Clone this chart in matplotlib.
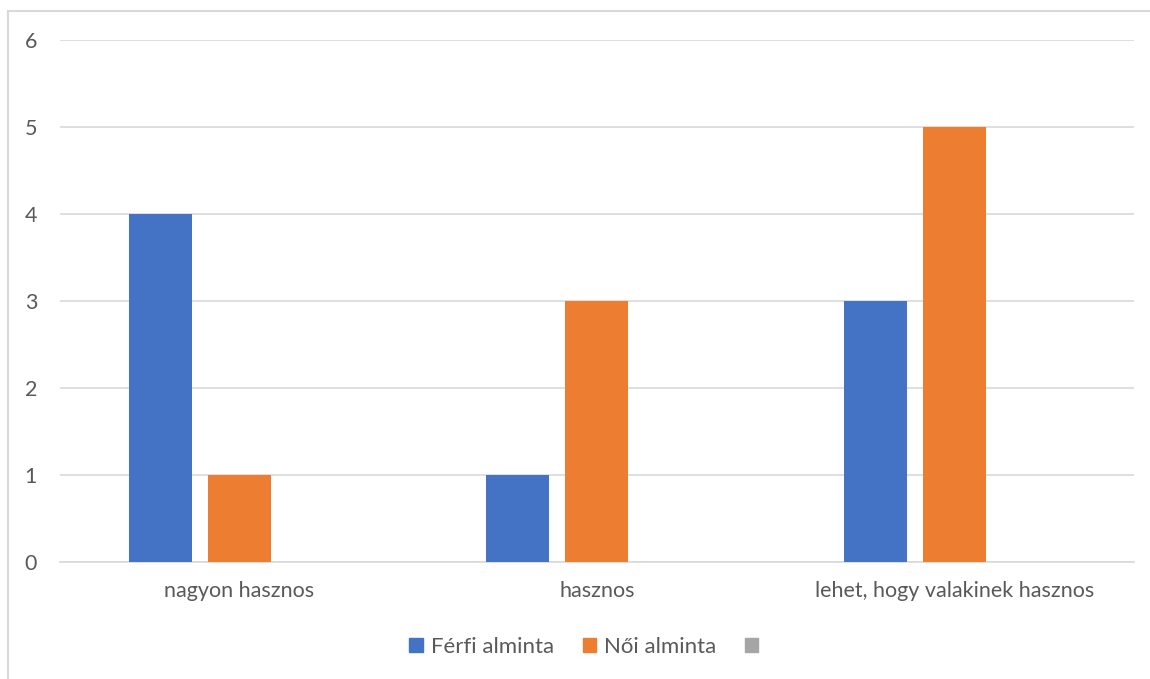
import numpy as np
import matplotlib.pyplot as plt
from matplotlib.lines import Line2D

categories = ['nagyon hasznos', 'hasznos', 'lehet, hogy valakinek hasznos']
ferfi = [4, 1, 3]
noi = [1, 3, 5]
harmadik = [0, 0, 0]
series_names = ['Férfi alminta', 'Női alminta', '']
colors = ['#4472C4', '#ED7D31', '#A5A5A5']

plt.rcParams['font.family'] = ['Lato', 'DejaVu Sans']
text_color = '#595959'
grid_color = '#D9D9D9'

fig = plt.figure(figsize=(11.5, 6.79), dpi=100)
ax = fig.add_axes([0.0522, 0.1723, 0.9338, 0.7688])

x = np.arange(len(categories))
width = 0.176
step = 0.2207
bars = []
for i, (vals, name, col) in enumerate(zip([ferfi, noi, harmadik], series_names, colors)):
    b = ax.bar(x + (i - 1) * step, vals, width, color=col, zorder=3)
    bars.append(b)

ax.set_xlim(-0.5, 2.5)
ax.set_ylim(0, 6)
ax.set_yticks(range(0, 7))
ax.set_xticks(x)
ax.set_xticklabels(categories)
ax.yaxis.grid(True, color=grid_color, linewidth=1.2, zorder=0)
ax.tick_params(axis='both', length=0, labelsize=15.5, colors=text_color)
ax.tick_params(axis='y', pad=16.5)
ax.tick_params(axis='x', pad=14)
for s in ['top', 'right', 'left']:
    ax.spines[s].set_visible(False)
ax.spines['bottom'].set_color(grid_color)
ax.spines['bottom'].set_linewidth(1.2)

handles = [plt.Rectangle((0, 0), 1, 1, color=c) for c in colors]
fig.legend(handles, series_names, loc='center', bbox_to_anchor=(0.511, 0.047),
           ncol=3, frameon=False, fontsize=16, labelcolor=text_color,
           handlelength=0.6, handleheight=0.6, handletextpad=0.35, columnspacing=1.3)

# chart area outline (left and top edges only)
fig.add_artist(Line2D([0.007, 0.007], [0, 0.9838], color=grid_color, linewidth=1.5))
fig.add_artist(Line2D([0.007, 1.0], [0.9838, 0.9838], color=grid_color, linewidth=1.5))

fig.savefig('out.png', dpi=100)
